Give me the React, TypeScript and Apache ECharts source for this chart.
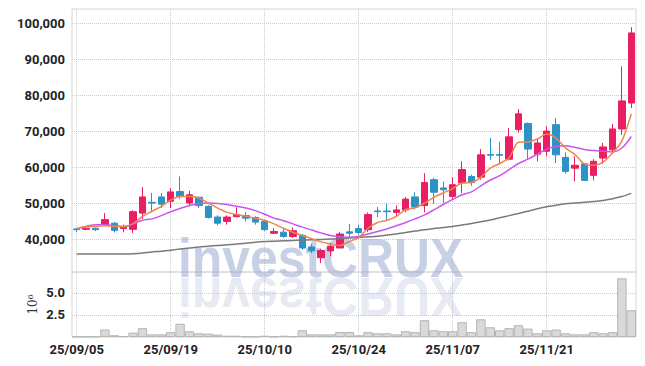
import React, { useEffect, useRef } from 'react';
import * as echarts from 'echarts';

const dates = [
  '25/09/05', '25/09/08', '25/09/09', '25/09/10', '25/09/11', '25/09/12',
  '25/09/15', '25/09/16', '25/09/17', '25/09/18', '25/09/19',
  '25/09/22', '25/09/23', '25/09/24', '25/09/25', '25/09/26',
  '25/09/29', '25/09/30', '25/10/01', '25/10/02', '25/10/10',
  '25/10/13', '25/10/14', '25/10/15', '25/10/16', '25/10/17',
  '25/10/20', '25/10/21', '25/10/22', '25/10/23', '25/10/24',
  '25/10/27', '25/10/28', '25/10/29', '25/10/30', '25/10/31',
  '25/11/03', '25/11/04', '25/11/05', '25/11/06', '25/11/07',
  '25/11/10', '25/11/11', '25/11/12', '25/11/13', '25/11/14',
  '25/11/17', '25/11/18', '25/11/19', '25/11/20', '25/11/21',
  '25/11/24', '25/11/25', '25/11/26', '25/11/27', '25/11/28',
  '25/12/01', '25/12/02', '25/12/03', '25/12/04',
];

const opens = [
  42800, 42700, 43000, 44000, 44400, 42900, 42700, 47200, 50200, 51700,
  50500, 53200, 50000, 51600, 49100, 46100, 44900, 46200, 46500, 46000,
  44900, 41600, 41900, 40700, 41000, 37800, 34800, 36700, 37500, 42000,
  42900, 42600, 47800, 47800, 47400, 48100, 51700, 49300, 56500, 54200,
  51800, 55600, 57400, 57200, 63500, 63500, 62200, 70400, 72100, 63600,
  64400, 71800, 62700, 59700, 60900, 57700, 62500, 64800, 70600, 77800,
];
const closes = [
  42600, 43000, 42600, 45400, 42400, 43300, 47600, 51700, 50000, 49700,
  53100, 51800, 52300, 49300, 46000, 44400, 46100, 46800, 45800, 44700,
  42600, 42100, 40700, 42300, 37500, 36700, 36800, 37900, 41400, 41600,
  41800, 46800, 47600, 47600, 48100, 51100, 48900, 55700, 53000, 53700,
  55100, 59300, 55700, 63400, 63300, 63300, 68400, 74800, 65000, 66700,
  70000, 63400, 58800, 60500, 56300, 61600, 65600, 70600, 78400, 97300,
];
const lows = [
  41900, 42400, 42200, 43700, 41800, 41900, 41600, 45600, 47600, 48600,
  48600, 51200, 49300, 48600, 45700, 43800, 44000, 46000, 44900, 44000,
  42300, 41400, 40400, 40300, 37000, 36100, 33300, 35200, 37500, 40400,
  41200, 42000, 46100, 45200, 46300, 47400, 48300, 47400, 49800, 50000,
  50900, 52800, 54800, 56500, 62000, 60900, 61900, 69600, 62000, 61600,
  63000, 61100, 58200, 56000, 56300, 56300, 60900, 64100, 69000, 76400,
];
const highs = [
  43000, 43300, 43100, 47200, 44700, 44000, 48000, 54400, 52800, 52800,
  54100, 57400, 53400, 51800, 49400, 46600, 46600, 48800, 47500, 46300,
  45400, 43000, 43000, 43200, 41400, 38600, 37200, 38900, 41900, 44200,
  44000, 47400, 48900, 49800, 49300, 51700, 53000, 58300, 57000, 56000,
  57200, 61600, 57900, 65000, 68100, 67100, 70900, 76100, 72400, 68100,
  71300, 73600, 64100, 63000, 61100, 62200, 66700, 72000, 88000, 98900,
];

const ma5 = [
  42800, 43500, 43500, 43700, 43500, 43500, 44300, 46300, 47700, 49100,
  50800, 51800, 51800, 51400, 50000, 48600, 47400, 46800, 46300, 45800,
  45200, 44200, 43000, 41900, 41000, 40100, 39200, 38600, 38200, 39300,
  40400, 43000, 44600, 45200, 46300, 48200, 48700, 50000, 51600, 52800,
  54000, 55600, 55700, 57200, 59700, 61000, 62600, 66900, 67000, 67800,
  69200, 68000, 65300, 63500, 60900, 60500, 61400, 63900, 67300, 74800,
];
const ma20 = [
  42900, 43500, 44000, 44000, 43700, 43400, 44200, 45200, 45600, 46500,
  47600, 48500, 49300, 49800, 50000, 49900, 49600, 49100, 48600, 47900,
  46900, 45800, 45100, 44200, 43300, 42500, 41700, 41000, 40600, 40500,
  40700, 41400, 42100, 42800, 43700, 44600, 45600, 46700, 48100, 49600,
  51000, 52300, 53100, 54800, 56400, 57600, 59300, 61000, 62200, 63600,
  65000, 65700, 65900, 65500, 64900, 64600, 64400, 64200, 65300, 68500,
];
const maLong = [
  35800, 35800, 35800, 35800, 35800, 35800, 35900, 36100, 36400, 36600,
  36900, 37200, 37500, 37800, 38000, 38200, 38400, 38600, 38800, 39100,
  39300, 39400, 39500, 39600, 39700, 39800, 39900, 40000, 40100, 40300,
  40400, 40600, 40800, 41100, 41400, 41800, 42200, 42600, 42900, 43200,
  43500, 43900, 44300, 44800, 45300, 45900, 46500, 47100, 47700, 48400,
  49000, 49400, 49800, 50000, 50200, 50400, 50700, 51200, 51800, 52700,
];

// volume in millions of shares
const volumes = [
  0.05, 0.05, 0.05, 0.85, 0.2, 0.1, 0.5, 1.0, 0.3, 0.3,
  0.55, 1.5, 0.65, 0.42, 0.38, 0.27, 0.15, 0.15, 0.05, 0.05,
  0.15, 0.05, 0.15, 0.08, 0.76, 0.3, 0.3, 0.3, 0.57, 0.57,
  0.19, 0.55, 0.42, 0.42, 0.3, 0.65, 0.55, 1.9, 0.76, 0.65,
  0.65, 1.67, 0.55, 2.0, 1.1, 0.76, 1.0, 1.33, 0.95, 0.42,
  0.76, 0.84, 0.42, 0.3, 0.3, 0.55, 0.42, 0.55, 6.64, 3.03,
];

const LABEL_FONT = 'Roboto, "Liberation Sans", sans-serif';
const UP = '#e91e63';
const DOWN = '#2b93c6';
const SPLIT_STYLE = { color: '#c9cbd9', type: 'dotted' as const, width: 1 };

function fmtThousands(v: number): string {
  return String(Math.round(v)).replace(/\B(?=(\d{3})+(?!\d))/g, ',');
}

export default function App() {
  const ref = useRef<HTMLDivElement>(null);
  useEffect(() => {
    if (!ref.current) return;
    const chart = echarts.init(ref.current, null, { renderer: 'svg' });
    const candleData = dates.map((_, i) => [opens[i], closes[i], lows[i], highs[i]]);
    const labelStyle = { color: '#222', fontSize: 13, fontWeight: 'bold', fontFamily: LABEL_FONT };
    const option: any = {
      animation: false,
      backgroundColor: '#ffffff',
      grid: [
        { left: 72, right: 9, top: 9, height: 263, show: true, borderColor: '#d6d6d6', borderWidth: 1 },
        { left: 72, right: 9, top: 272, height: 65, show: true, borderColor: '#d6d6d6', borderWidth: 1 },
      ],
      graphic: [
        {
          type: 'text', x: 178, y: 257, scaleX: 0.89, z: 1, silent: true,
          style: {
            text: 'investCRUX', font: 'bold 56px "Liberation Sans", sans-serif',
            fill: 'rgba(160,174,212,0.58)', verticalAlign: 'middle', align: 'left',
          },
        },
        {
          type: 'text', x: 178, y: 298, scaleX: 0.89, scaleY: -1, z: 1, silent: true,
          style: {
            text: 'investCRUX', font: 'bold 56px "Liberation Sans", sans-serif',
            fill: 'rgba(180,190,216,0.32)', verticalAlign: 'middle', align: 'left',
          },
        },
      ],
      xAxis: [
        {
          type: 'category', gridIndex: 0, data: dates, boundaryGap: true,
          axisLine: { show: false }, axisTick: { show: false }, axisLabel: { show: false },
          splitLine: { show: true, lineStyle: SPLIT_STYLE, interval: 9, alignWithLabel: true },
        },
        {
          type: 'category', gridIndex: 1, data: dates, boundaryGap: true,
          axisLine: { show: false }, axisTick: { show: false },
          axisLabel: { interval: 9, margin: 6, ...labelStyle },
          splitLine: { show: true, lineStyle: SPLIT_STYLE, interval: 9, alignWithLabel: true },
        },
      ],
      yAxis: [
        {
          type: 'value', gridIndex: 0, min: 30830, max: 103950, splitNumber: 7, scale: true,
          axisLine: { show: false }, axisTick: { show: false },
          axisLabel: {
            margin: 7, ...labelStyle,
            formatter: (v: number) => (v % 10000 === 0 ? fmtThousands(v) : ''),
          },
          splitLine: { show: true, lineStyle: SPLIT_STYLE, showMinLine: false, showMaxLine: false },
        },
        {
          type: 'value', gridIndex: 1, min: 0, max: 7.35, interval: 2.5,
          axisLine: { show: false }, axisTick: { show: false },
          name: '10⁶', nameLocation: 'middle', nameRotate: 90, nameGap: 33, nameMoveOverlap: false,
          nameTextStyle: { fontFamily: '"DejaVu Serif", serif', fontSize: 12, color: '#333' },
          axisLabel: {
            margin: 7, ...labelStyle,
            formatter: (v: number) => (v === 2.5 || v === 5 ? v.toFixed(1) : ''),
          },
          splitLine: { show: true, lineStyle: SPLIT_STYLE, showMinLine: false, showMaxLine: false },
        },
      ],
      series: [
        {
          type: 'candlestick', xAxisIndex: 0, yAxisIndex: 0, data: candleData, barWidth: 7, z: 3,
          itemStyle: { color: UP, color0: DOWN, borderColor: UP, borderColor0: DOWN, borderWidth: 1 },
        },
        {
          type: 'line', xAxisIndex: 0, yAxisIndex: 0, data: maLong, smooth: 0.3, symbol: 'none', z: 4,
          lineStyle: { color: '#7a7a7a', width: 1.5 },
        },
        {
          type: 'line', xAxisIndex: 0, yAxisIndex: 0, data: ma20, smooth: 0.3, symbol: 'none', z: 4,
          lineStyle: { color: '#cc55ee', width: 1.5 },
        },
        {
          type: 'line', xAxisIndex: 0, yAxisIndex: 0, data: ma5, smooth: 0.3, symbol: 'none', z: 5,
          lineStyle: { color: '#f0844c', width: 1.5 },
        },
        {
          type: 'bar', xAxisIndex: 1, yAxisIndex: 1, data: volumes, barCategoryGap: '0%', z: 3,
          itemStyle: { color: '#d9d9d9', borderColor: '#b4b4b4', borderWidth: 1 },
        },
      ],
    };
    chart.setOption(option);
    return () => chart.dispose();
  }, []);
  return <div ref={ref} style={{ position: 'fixed', left: 0, top: 0, width: 645, height: 366 }} />;
}
